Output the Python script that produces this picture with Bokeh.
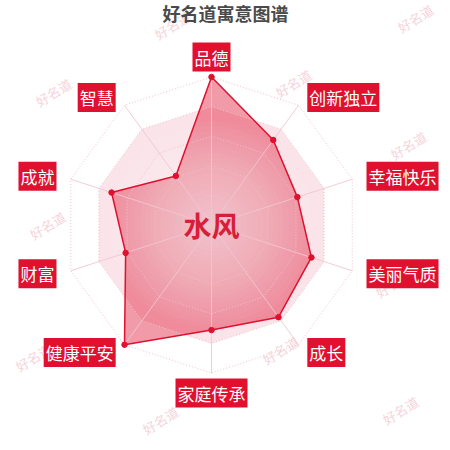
import math
from bokeh.plotting import figure
from bokeh.models import Range1d
from bokeh.core.properties import value
from bokeh.embed import file_html
from bokeh.resources import INLINE

# ---- data ----
title_text = "好名道寓意图谱"
name_text = "水风"
categories = ["品德", "创新独立", "幸福快乐", "美丽气质", "成长",
              "家庭传承", "健康平安", "财富", "成就", "智慧"]
scores = [100, 71, 61, 71, 77, 71, 100, 61, 71, 41]
max_score = 100
watermark = "好名道"

# ---- layout (page pixel frame: center and radius) ----
W = H = 442
CX, CY = 211.0, 224.5      # radar centre in page pixels
R = 148.0                  # radar radius in px
PAGE_OFF = 0
RED = "#e0102f"
FONT = "Noto Sans CJK SC"

p = figure(width=W, height=H, output_backend="svg", toolbar_location=None,
           x_range=Range1d(PAGE_OFF - CX, PAGE_OFF + W - CX),
           y_range=Range1d(CY - PAGE_OFF - H, CY - PAGE_OFF),
           min_border=0, background_fill_color="white", border_fill_color="white")
p.axis.visible = False
p.grid.visible = False
p.outline_line_color = None

n = len(categories)
angles = [2 * math.pi * i / n for i in range(n)]


def ring(frac):
    xs = [R * frac * math.sin(a) for a in angles]
    ys = [R * frac * math.cos(a) for a in angles]
    return xs, ys


def page_xy(px, py):
    return px - CX, CY - py


# watermarks (decorative, page positions)
wm_pos = [(172, 25), (415, 18), (53, 92), (293, 83), (408, 145), (165, 160),
          (47, 225), (292, 215), (393, 283), (33, 357), (280, 350),
          (160, 420), (400, 410)]
wx = [page_xy(a, b)[0] for a, b in wm_pos]
wy = [page_xy(a, b)[1] for a, b in wm_pos]
p.text(x=wx, y=wy, text=[watermark] * len(wx), angle=0.55,
       text_font=value(FONT), text_font_size="13px", text_color="#f5d4db",
       text_align="center", text_baseline="middle")

# split areas: inner region shaded, gradient lighter to centre
steps = 16
c_out = (250, 228, 233)
c_in = (252, 240, 243)
for k in range(steps):
    f = 0.8 * (1 - k / steps)
    t = k / steps
    col = tuple(int(c_out[j] + (c_in[j] - c_out[j]) * t) for j in range(3))
    xs, ys = ring(f)
    p.patch(xs, ys, fill_color="#%02x%02x%02x" % col, line_color=None)

# data polygon
px_ = [R * s / max_score * math.sin(a) for s, a in zip(scores, angles)]
py_ = [R * s / max_score * math.cos(a) for s, a in zip(scores, angles)]
p.patch(px_, py_, fill_color=RED, fill_alpha=0.42, line_color=None)

# lighten centre (radial gradient effect)
for k in range(1, 21):
    p.circle(x=[0], y=[0], radius=R * 0.035 * k, fill_color="white",
             fill_alpha=0.035, line_color=None)

# ring lines
for k in range(1, 6):
    xs, ys = ring(k / 5)
    p.line(xs + xs[:1], ys + ys[:1], line_color="#efc3cc", line_width=1,
           line_dash="1 2")

# spokes
for a in angles:
    p.line([0, R * math.sin(a)], [0, R * math.cos(a)], line_color="#f1c6cf",
           line_width=1, line_alpha=0.9)

# polygon outline and points
p.line(px_ + px_[:1], py_ + py_[:1], line_color=RED, line_width=1.5)
p.scatter(px_, py_, size=5.5, fill_color=RED, line_color=RED)

# axis names
lx, ly, la = [], [], []
for a in angles:
    s, c = math.sin(a), math.cos(a)
    if abs(s) < 1e-6:
        lx.append(0.0)
        ly.append((R + 20) * c)
        la.append("center")
    else:
        lx.append((R + 15) * s)
        ly.append((R + 9.5) * c)
        la.append("left" if s > 0 else "right")
p.text(x=lx, y=ly, text=categories, text_align=la, text_baseline="middle",
       text_font=value(FONT), text_font_size="17px", text_color="white",
       background_fill_color=RED, padding=2)

# centre name
p.text(x=[0], y=[0], text=[name_text], text_align="center", text_baseline="middle",
       text_font=value(FONT), text_font_size="28px", text_font_style="bold",
       text_color="#d81e3a")

# title
tx, ty = page_xy(225, 12)
p.text(x=[tx], y=[ty], text=[title_text], text_align="center", text_baseline="middle",
       text_font=value(FONT), text_font_size="18px", text_font_style="bold",
       text_color="#4a4a4a")

open("out.html", "w").write(file_html(p, INLINE))
